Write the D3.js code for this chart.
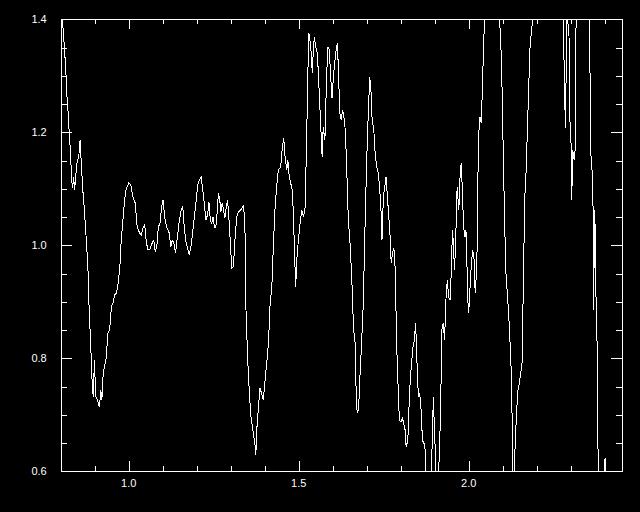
<!DOCTYPE html>
<html>
<head>
<meta charset="utf-8">
<script src="https://cdn.jsdelivr.net/npm/d3@7"></script>
<style>
  html, body { margin: 0; padding: 0; background: #000; }
  svg { display: block; }
</style>
</head>
<body>
<script>
// ---- data ----
const xValues = [
  0.801,0.805,0.810,0.815,0.819,0.822,0.825,0.829,0.832,0.835,0.838,0.841,0.845,0.849,0.853,0.857,0.860,0.865,0.869,0.874,
  0.880,0.883,0.888,0.893,0.896,0.899,0.903,0.908,0.914,0.918,0.921,0.925,0.929,0.934,0.939,0.944,0.949,0.954,0.959,0.964,
  0.969,0.974,0.978,0.983,0.988,0.993,1.000,1.006,1.013,1.019,1.025,1.032,1.037,1.043,1.047,1.052,1.057,1.062,1.069,1.074,
  1.078,1.083,1.087,1.092,1.097,1.101,1.107,1.112,1.119,1.124,1.128,1.133,1.138,1.142,1.148,1.154,1.159,1.164,1.169,1.174,
  1.178,1.183,1.188,1.193,1.198,1.203,1.208,1.213,1.218,1.222,1.227,1.232,1.236,1.240,1.244,1.248,1.252,1.256,1.260,1.264,
  1.268,1.271,1.275,1.279,1.283,1.287,1.291,1.295,1.299,1.303,1.308,1.313,1.318,1.322,1.328,1.334,1.338,1.342,1.345,1.350,
  1.355,1.359,1.365,1.371,1.374,1.376,1.381,1.386,1.391,1.396,1.401,1.406,1.411,1.416,1.421,1.425,1.430,1.435,1.440,1.445,
  1.448,1.452,1.456,1.460,1.465,1.468,1.471,1.476,1.480,1.484,1.487,1.491,1.495,1.499,1.504,1.509,1.514,1.519,1.524,1.527,
  1.530,1.533,1.536,1.540,1.543,1.546,1.550,1.555,1.560,1.565,1.569,1.572,1.577,1.582,1.586,1.590,1.594,1.598,1.602,1.606,
  1.610,1.614,1.618,1.621,1.625,1.629,1.633,1.637,1.641,1.646,1.651,1.656,1.661,1.666,1.669,1.672,1.676,1.680,1.685,1.690,
  1.695,1.700,1.705,1.709,1.713,1.716,1.721,1.724,1.729,1.734,1.738,1.742,1.745,1.749,1.753,1.757,1.761,1.765,1.769,1.772,
  1.776,1.780,1.784,1.788,1.792,1.796,1.801,1.805,1.809,1.813,1.816,1.821,1.824,1.828,1.832,1.836,1.840,1.844,1.848,1.852,
  1.856,1.860,1.864,1.868,1.871,1.876,1.885,1.889,1.893,1.896,1.899,1.902,1.905,1.911,1.916,1.919,1.921,1.925,1.929,1.933,
  1.937,1.941,1.945,1.949,1.952,1.955,1.958,1.961,1.964,1.966,1.971,1.974,1.978,1.981,1.985,1.989,1.992,1.995,1.998,2.000,
  2.004,2.008,2.012,2.016,2.019,2.024,2.026,2.029,2.033,2.037,2.041,2.044,2.047,2.054,2.083,2.090,2.094,2.098,2.102,2.106,
  2.110,2.115,2.119,2.124,2.127,2.130,2.132,2.133,2.137,2.141,2.145,2.149,2.153,2.157,2.161,2.165,2.169,2.172,2.176,2.180,
  2.184,2.188,2.195,2.271,2.278,2.283,2.285,2.288,2.290,2.291,2.295,2.298,2.301,2.303,2.306,2.310,2.313,2.315,2.316,2.327,
  2.348,2.355,2.356,2.360,2.364,2.366,2.368,2.369,2.371,2.374,2.378,2.381,2.383,2.395,2.398,2.401,2.404,2.416
];
const yValues = [
  1.413,1.399,1.358,1.310,1.257,1.234,1.199,1.163,1.116,1.101,1.121,1.098,1.128,1.151,1.156,1.186,1.151,1.098,1.068,1.022,
  0.962,0.898,0.827,0.749,0.732,0.797,0.732,0.726,0.714,0.744,0.726,0.774,0.785,0.802,0.845,0.850,0.891,0.898,0.912,0.916,
  0.933,0.962,1.009,1.045,1.080,1.101,1.110,1.107,1.084,1.075,1.032,1.022,1.018,1.032,1.036,1.004,0.992,0.992,1.004,1.009,
  0.988,1.000,1.032,1.039,1.068,1.080,1.045,1.032,1.022,0.997,1.009,1.004,0.986,1.009,1.039,1.062,1.068,1.027,1.004,0.992,
  0.983,0.997,1.022,1.050,1.077,1.107,1.116,1.121,1.098,1.075,1.045,1.054,1.077,1.045,1.039,1.050,1.032,1.031,1.057,1.093,
  1.080,1.059,1.075,1.062,1.048,1.068,1.080,1.045,1.004,0.960,0.962,1.015,1.050,1.059,1.062,1.066,1.071,1.027,0.885,0.797,
  0.738,0.700,0.673,0.650,0.629,0.668,0.708,0.747,0.738,0.726,0.761,0.792,0.827,0.898,0.926,0.992,1.062,1.103,1.133,1.137,
  1.146,1.174,1.190,1.156,1.133,1.151,1.128,1.110,1.103,1.062,1.004,0.926,0.979,1.009,1.039,1.062,1.050,1.068,1.209,1.305,
  1.376,1.363,1.346,1.305,1.346,1.369,1.351,1.340,1.275,1.209,1.156,1.209,1.186,1.298,1.351,1.346,1.298,1.261,1.298,1.323,
  1.346,1.358,1.287,1.234,1.222,1.239,1.227,1.204,1.142,1.045,1.004,0.944,0.855,0.827,0.738,0.703,0.708,0.767,0.827,0.898,
  1.032,1.151,1.239,1.298,1.270,1.222,1.204,1.169,1.139,1.128,1.103,1.062,1.009,1.085,1.103,1.121,1.085,1.050,1.015,0.969,
  0.986,0.995,0.956,0.827,0.756,0.691,0.687,0.694,0.685,0.673,0.643,0.655,0.708,0.761,0.792,0.820,0.832,0.862,0.792,0.732,
  0.738,0.708,0.655,0.650,0.650,0.549,0.540,0.590,0.655,0.732,0.678,0.632,0.549,0.585,0.678,0.767,0.850,0.862,0.832,0.903,
  0.939,0.909,0.903,0.956,1.027,1.004,0.956,0.992,1.062,1.103,1.062,1.116,1.146,1.103,1.032,1.015,1.027,0.962,0.898,0.880,
  0.926,0.969,0.992,0.974,0.916,0.962,1.075,1.192,1.227,1.216,1.293,1.358,1.402,1.487,1.487,1.401,1.369,1.280,1.151,1.032,
  0.944,0.903,0.862,0.797,0.721,0.590,0.532,0.590,0.650,0.708,0.744,0.756,0.774,0.792,0.944,1.085,1.133,1.192,1.270,1.346,
  1.376,1.399,1.487,1.487,1.401,1.245,1.208,1.401,1.452,1.401,1.370,1.216,1.181,1.080,1.169,1.151,1.169,1.358,1.401,1.487,
  1.487,1.401,1.346,1.146,1.128,1.057,0.885,1.015,1.062,0.921,0.815,0.590,0.514,0.514,0.549,0.623,0.549,0.514
];
const xDomain = [0.8, 2.45];
const yDomain = [0.6, 1.4];
const xMajorTicks = [1.0, 1.5, 2.0];
const xTickLabels = ["1.0", "1.5", "2.0"];
const yMajorTicks = [0.6, 0.8, 1.0, 1.2, 1.4];
const yTickLabels = ["0.6", "0.8", "1.0", "1.2", "1.4"];
const xMinorStep = 0.1;
const yMinorStep = 0.05;

// ---- layout ----
const W = 640, H = 512;
const padL = 60.7, padR = 621.7, padT = 19.3, padB = 471.3;

const svg = d3.select("body").append("svg")
  .attr("width", W).attr("height", H)
  .style("background", "#000");

svg.append("rect").attr("width", W).attr("height", H).attr("fill", "#000");

const x = d3.scaleLinear().domain(xDomain).range([padL, padR]);
const y = d3.scaleLinear().domain(yDomain).range([padB, padT]);

const data = xValues.map((v, i) => ({ x: v, y: yValues[i] }));

svg.append("clipPath").attr("id", "plotclip")
  .append("rect")
  .attr("x", padL).attr("y", padT)
  .attr("width", padR - padL).attr("height", padB - padT);

svg.append("path")
  .datum(data)
  .attr("clip-path", "url(#plotclip)")
  .attr("fill", "none")
  .attr("stroke", "#fff")
  .attr("stroke-width", 1)
  .attr("shape-rendering", "crispEdges")
  .attr("d", d3.line().x(d => x(d.x)).y(d => y(d.y)));

// tick lists
const xMinor = d3.range(Math.ceil(xDomain[0] / xMinorStep - 1e-9), Math.floor(xDomain[1] / xMinorStep + 1e-9) + 1)
  .map(k => +(k * xMinorStep).toFixed(3));
const yMinor = d3.range(Math.round(yDomain[0] / yMinorStep), Math.round(yDomain[1] / yMinorStep) + 1)
  .map(k => +(k * yMinorStep).toFixed(3));
const isMajor = (v, arr) => arr.some(m => Math.abs(m - v) < 1e-6);

const fg = "#fff";
const font = "'Liberation Sans', Arial, sans-serif";
const px = v => Math.round(v) + 0.5;

const xTicks = xMinor.map(v => ({ v, len: isMajor(v, xMajorTicks) ? 10 : 5 }));
const yTicks = yMinor.map(v => ({ v, len: isMajor(v, yMajorTicks) ? 11 : 6 }));

const axes = svg.append("g").attr("stroke", fg).attr("stroke-width", 1).attr("shape-rendering", "crispEdges");

// bottom & top x ticks
axes.selectAll("line.xb").data(xTicks).join("line").attr("class", "xb")
  .attr("x1", d => px(x(d.v))).attr("x2", d => px(x(d.v)))
  .attr("y1", Math.round(padB)).attr("y2", d => Math.round(padB) - d.len);
axes.selectAll("line.xt").data(xTicks).join("line").attr("class", "xt")
  .attr("x1", d => px(x(d.v))).attr("x2", d => px(x(d.v)))
  .attr("y1", Math.round(padT)).attr("y2", d => Math.round(padT) + d.len);

// left & right y ticks
axes.selectAll("line.yl").data(yTicks).join("line").attr("class", "yl")
  .attr("y1", d => px(y(d.v))).attr("y2", d => px(y(d.v)))
  .attr("x1", Math.round(padL)).attr("x2", d => Math.round(padL) + d.len);
axes.selectAll("line.yr").data(yTicks).join("line").attr("class", "yr")
  .attr("y1", d => px(y(d.v))).attr("y2", d => px(y(d.v)))
  .attr("x1", Math.round(padR)).attr("x2", d => Math.round(padR) - d.len);

// frame
svg.append("rect")
  .attr("x", px(padL)).attr("y", px(padT))
  .attr("width", Math.round(padR) - Math.round(padL)).attr("height", Math.round(padB) - Math.round(padT))
  .attr("fill", "none").attr("stroke", fg).attr("stroke-width", 1).attr("shape-rendering", "crispEdges");

// labels
svg.append("g").selectAll("text").data(xMajorTicks).join("text")
  .attr("x", d => x(d)).attr("y", padB + 16)
  .attr("text-anchor", "middle")
  .attr("fill", fg).style("font-family", font).style("font-size", "11px")
  .text((d, i) => xTickLabels[i]);

svg.append("g").selectAll("text").data(yMajorTicks).join("text")
  .attr("x", padL - 14).attr("y", d => y(d) + 4)
  .attr("text-anchor", "end")
  .attr("fill", fg).style("font-family", font).style("font-size", "11px")
  .text((d, i) => yTickLabels[i]);
</script>
</body>
</html>
